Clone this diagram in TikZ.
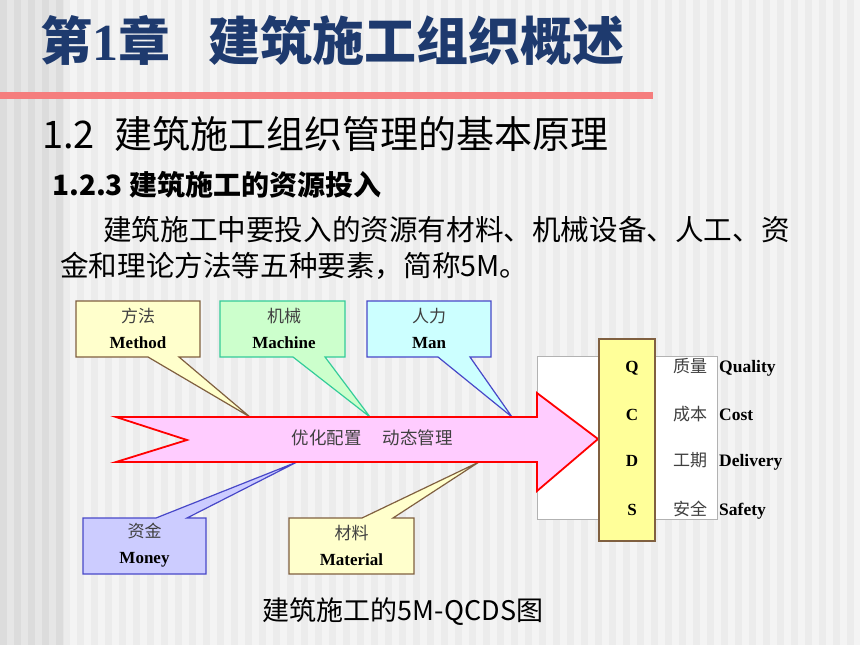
\documentclass[tikz,border=0pt]{standalone}
\usepackage{fontspec}
\setmainfont{Liberation Serif}
\newfontfamily\cjk{Noto Sans CJK SC}
\definecolor{bgA}{RGB}{244,244,244}
\definecolor{bgB}{RGB}{236,236,236}
\definecolor{sideA}{RGB}{230,230,230}
\definecolor{sideB}{RGB}{220,220,220}
\definecolor{rule}{RGB}{245,125,125}
\definecolor{titleblue}{RGB}{30,58,110}
\definecolor{brownline}{RGB}{128,96,64}
\definecolor{yellowfill}{RGB}{255,255,204}
\definecolor{greenline}{RGB}{51,204,153}
\definecolor{greenfill}{RGB}{204,255,204}
\definecolor{blueline}{RGB}{72,72,200}
\definecolor{cyanfill}{RGB}{204,255,255}
\definecolor{lavfill}{RGB}{204,204,255}
\definecolor{pinkfill}{RGB}{255,204,255}
\definecolor{qcdsfill}{RGB}{255,255,153}
\begin{document}
\begin{tikzpicture}[
        x=1pt, y=-1pt,
        % Stili dei testi
        txt/.style={inner sep=0pt, anchor=base west},
        boxtext/.style={
            inner sep=0pt,
            align=center,
            font=\fontsize{17}{26}\selectfont
        },
        callout/.style={line width=1.2pt, line join=miter},
        letter/.style={inner sep=0pt, anchor=base, font=\bfseries\fontsize{17}{17}\selectfont},
        cnlbl/.style={inner sep=0pt, anchor=base, text=black!75, font=\cjk\fontsize{17}{17}\selectfont},
        enlbl/.style={inner sep=0pt, anchor=base west, font=\bfseries\fontsize{17.5}{17.5}\selectfont}
    ]
    \useasboundingbox (0,0) rectangle (860,645);

    % --- sfondo a righe ---
    \fill[bgA] (0,0) rectangle (860,645);
    \foreach \i in {0,...,61} {
        \fill[bgB] (\i*14+7,0) rectangle (\i*14+14,645);
    }
    \fill[sideA] (0,0) rectangle (64,645);
    \foreach \i in {0,...,4} {
        \fill[sideB] (\i*14,0) rectangle (\i*14+7,645);
    }

    % --- titoli ---
    \node[txt, text=titleblue, font=\cjk\bfseries\fontsize{52}{52}\selectfont] (title) at (40,60)
        {第{\rmfamily 1}章\hspace{38pt}建筑施工组织概述};
    \fill[rule] (0,92) rectangle (653,99);
    \node[txt, font=\cjk\fontsize{38}{38}\selectfont] (sec) at (42,148)
        {1.2\hspace{20pt}建筑施工组织管理的基本原理};
    \node[txt, font=\cjk\bfseries\fontsize{28}{28}\selectfont] (subsec) at (52,195)
        {1.2.3 建筑施工的资源投入};
    \node[txt, font=\cjk\fontsize{28.6}{28.6}\selectfont] (par1) at (103,240)
        {建筑施工中要投入的资源有材料、机械设备、人工、资};
    \node[txt, font=\cjk\fontsize{28.6}{28.6}\selectfont] (par2) at (60,276.5)
        {金和理论方法等五种要素，简称5M。};

    % --- riquadri in alto ---
    \filldraw[callout, draw=brownline, fill=yellowfill]
        (76,301) -- (200,301) -- (200,357) -- (179,357) -- (250,417) -- (148,357) -- (76,357) -- cycle;
    \filldraw[callout, draw=greenline, fill=greenfill]
        (220,301) -- (345,301) -- (345,357) -- (325,357) -- (370,417) -- (293,357) -- (220,357) -- cycle;
    \filldraw[callout, draw=blueline, fill=cyanfill]
        (367,301) -- (491,301) -- (491,357) -- (470,357) -- (512,417) -- (438,357) -- (367,357) -- cycle;

    % --- riquadri in basso ---
    \filldraw[callout, draw=blueline, fill=lavfill]
        (83,518) -- (156,518) -- (297,462) -- (187,518) -- (206,518) -- (206,574) -- (83,574) -- cycle;
    \filldraw[callout, draw=brownline, fill=yellowfill]
        (289,518) -- (362,518) -- (479,462) -- (393,518) -- (414,518) -- (414,574) -- (289,574) -- cycle;

    % --- QCDS ---
    \draw[black!30, fill=white] (537,356) rectangle (717,519);

    % --- freccia ---
    \filldraw[draw=red, fill=pinkfill, line width=1.8pt, line join=miter]
        (116,417) -- (537,417) -- (537,393) -- (598,439) -- (537,491)
        -- (537,462) -- (116,462) -- (187,440) -- cycle;
    \node[inner sep=0pt, anchor=base, text=black!75, font=\cjk\fontsize{17.5}{17.5}\selectfont] (flow) at (372,444)
        {优化配置\hspace{21pt}动态管理};

    \node[draw=brownline, fill=qcdsfill, line width=1.2pt, minimum width=56, minimum height=202,
        inner sep=0pt] (qcds) at (627,440) {};

    \foreach \l/\c/\e/\y in {Q/质量/Quality/372, C/成本/Cost/420.5, D/工期/Delivery/466.5, S/安全/Safety/515.5} {
        \node[letter] (l\l) at (632,\y) {\l};
        \node[cnlbl] (c\l) at (690,\y) {\c};
        \node[enlbl] (e\l) at (719,\y) {\e};
    }

    % --- testi dei riquadri ---
    \node[boxtext] (method) at (138,328) {{\cjk\color{black!75}方法}\\\textbf{Method}};
    \node[boxtext] (machine) at (284,328) {{\cjk\color{black!75}机械}\\\textbf{Machine}};
    \node[boxtext] (man) at (429,328) {{\cjk\color{black!75}人力}\\\textbf{Man}};
    \node[boxtext] (money) at (144.5,545) {{\cjk\color{black!75}资金}\\\textbf{Money}};
    \node[boxtext] (material) at (351.5,545) {{\cjk\color{black!75}材料}\\\textbf{Material}};

    % --- didascalia ---
    \node[inner sep=0pt, anchor=base, font=\cjk\fontsize{27}{27}\selectfont] (caption) at (403,620)
        {建筑施工的5M-QCDS图};

    \end{tikzpicture}
\end{document}
